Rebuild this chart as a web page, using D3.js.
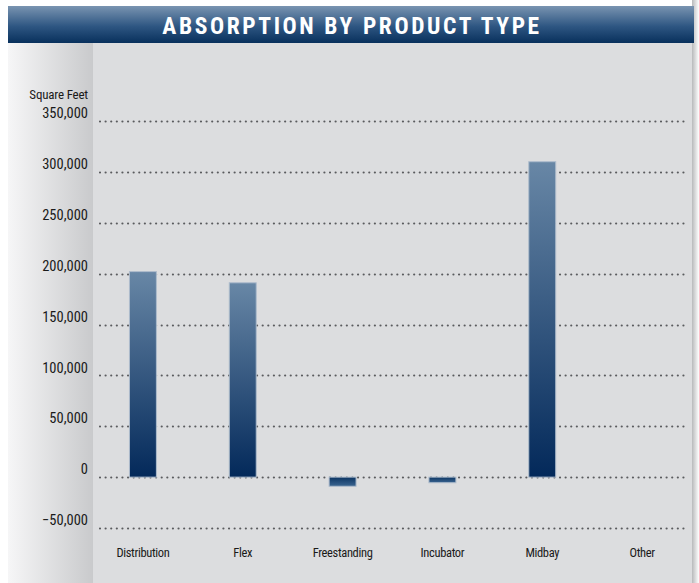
<!DOCTYPE html>
<html><head><meta charset="utf-8">
<script src="https://cdn.jsdelivr.net/npm/d3@7"></script>
<style>
body{margin:0;background:#fff;}
text{font-family:"Liberation Sans Narrow","Roboto Condensed","Arial Narrow","Liberation Sans",sans-serif;}
</style></head>
<body>
<svg id="c" width="699" height="583"></svg>
<script>
const title = "ABSORPTION BY PRODUCT TYPE";
const axisTitle = "Square Feet";
const categories = ["Distribution","Flex","Freestanding","Incubator","Midbay","Other"];
const values = [202000, 191000, -9000, -5500, 310000, 0];
const tickValues = [-50000, 0, 50000, 100000, 150000, 200000, 250000, 300000, 350000];

const svg = d3.select("#c");
const defs = svg.append("defs");

const tg = defs.append("linearGradient").attr("id","tg").attr("x1",0).attr("y1",0).attr("x2",0).attr("y2",1);
tg.append("stop").attr("offset","0%").attr("stop-color","#7994b1");
tg.append("stop").attr("offset","55%").attr("stop-color","#2e5682");
tg.append("stop").attr("offset","100%").attr("stop-color","#08305c");

const lg = defs.append("linearGradient").attr("id","lg").attr("x1",0).attr("y1",0).attr("x2",1).attr("y2",0);
lg.append("stop").attr("offset","0%").attr("stop-color","#f6f6f7");
lg.append("stop").attr("offset","100%").attr("stop-color","#c9cacc");

const rg = defs.append("linearGradient").attr("id","rg").attr("x1",0).attr("y1",0).attr("x2",1).attr("y2",0);
rg.append("stop").attr("offset","0%").attr("stop-color","#b8b9bb");
rg.append("stop").attr("offset","100%").attr("stop-color","#ffffff");

const bg = defs.append("linearGradient").attr("id","bg").attr("x1",0).attr("y1",0).attr("x2",0).attr("y2",1);
bg.append("stop").attr("offset","0%").attr("stop-color","#6887a6");
bg.append("stop").attr("offset","100%").attr("stop-color","#03295a");

const bgn = defs.append("linearGradient").attr("id","bgn").attr("x1",0).attr("y1",0).attr("x2",0).attr("y2",1);
bgn.append("stop").attr("offset","0%").attr("stop-color","#0b3462");
bgn.append("stop").attr("offset","100%").attr("stop-color","#3b6591");

// panel backgrounds
svg.append("rect").attr("x",8).attr("y",43).attr("width",686).attr("height",540).attr("fill","#dcdddf");
svg.append("rect").attr("x",8).attr("y",43).attr("width",85).attr("height",540).attr("fill","url(#lg)");
svg.append("rect").attr("x",692).attr("y",0).attr("width",7).attr("height",583).attr("fill","url(#rg)");

// title band
svg.append("rect").attr("x",8).attr("y",6).attr("width",686).attr("height",37).attr("fill","url(#tg)");
svg.append("text").attr("x",352).attr("y",34).attr("text-anchor","middle")
  .attr("fill","#ffffff").attr("font-size",23.5).attr("font-weight","bold")
  .attr("letter-spacing",2.6).text(title);

const x = d3.scaleBand().domain(categories).range([93,692]).paddingInner(0.73).paddingOuter(0.365);
const y = d3.scaleLinear().domain([-50000,350000]).range([528,121]);

// grid
const grid = svg.append("g");
grid.selectAll("line").data(tickValues).join("line")
  .attr("x1",100).attr("x2",688)
  .attr("y1",d=>Math.round(y(d))+0.5).attr("y2",d=>Math.round(y(d))+0.5)
  .attr("stroke","#5a5b5e").attr("stroke-width",2.2)
  .attr("stroke-dasharray","0.01 5.6").attr("stroke-linecap","round");

// y axis labels
const yAxis = d3.axisLeft(y).tickValues(tickValues).tickSize(0).tickPadding(0)
  .tickFormat(d3.format(","));
const ya = svg.append("g").attr("transform","translate(88,-8)").call(yAxis);
ya.select(".domain").remove();
ya.selectAll("text").attr("font-size",14.5).attr("fill","#1a1a1a")
  .style("font-family",'"Liberation Sans Narrow","Roboto Condensed","Arial Narrow",sans-serif');

svg.append("text").attr("x",88).attr("y",99).attr("text-anchor","end")
  .attr("font-size",13).attr("letter-spacing",-0.2).attr("fill","#1a1a1a").text(axisTitle);

// bars
svg.append("g").selectAll("rect").data(values.map((v,i)=>({c:categories[i],v}))).join("rect")
  .attr("x",d=>x(d.c)).attr("width",x.bandwidth())
  .attr("y",d=>y(Math.max(0,d.v))).attr("height",d=>Math.abs(y(d.v)-y(0)))
  .attr("fill",d=>d.v>=0?"url(#bg)":"url(#bgn)")
  .attr("stroke","#aebccc").attr("stroke-width",d=>d.v===0?0:1);

// x axis labels
const xAxis = d3.axisBottom(x).tickSize(0).tickPadding(0);
const xa = svg.append("g").attr("transform","translate(0,557)").call(xAxis);
xa.select(".domain").remove();
xa.selectAll("text").attr("font-size",12.5).attr("letter-spacing",-0.35).attr("fill","#1a1a1a").attr("dy",0)
  .style("font-family",'"Liberation Sans Narrow","Roboto Condensed","Arial Narrow",sans-serif');
</script>
</body></html>
